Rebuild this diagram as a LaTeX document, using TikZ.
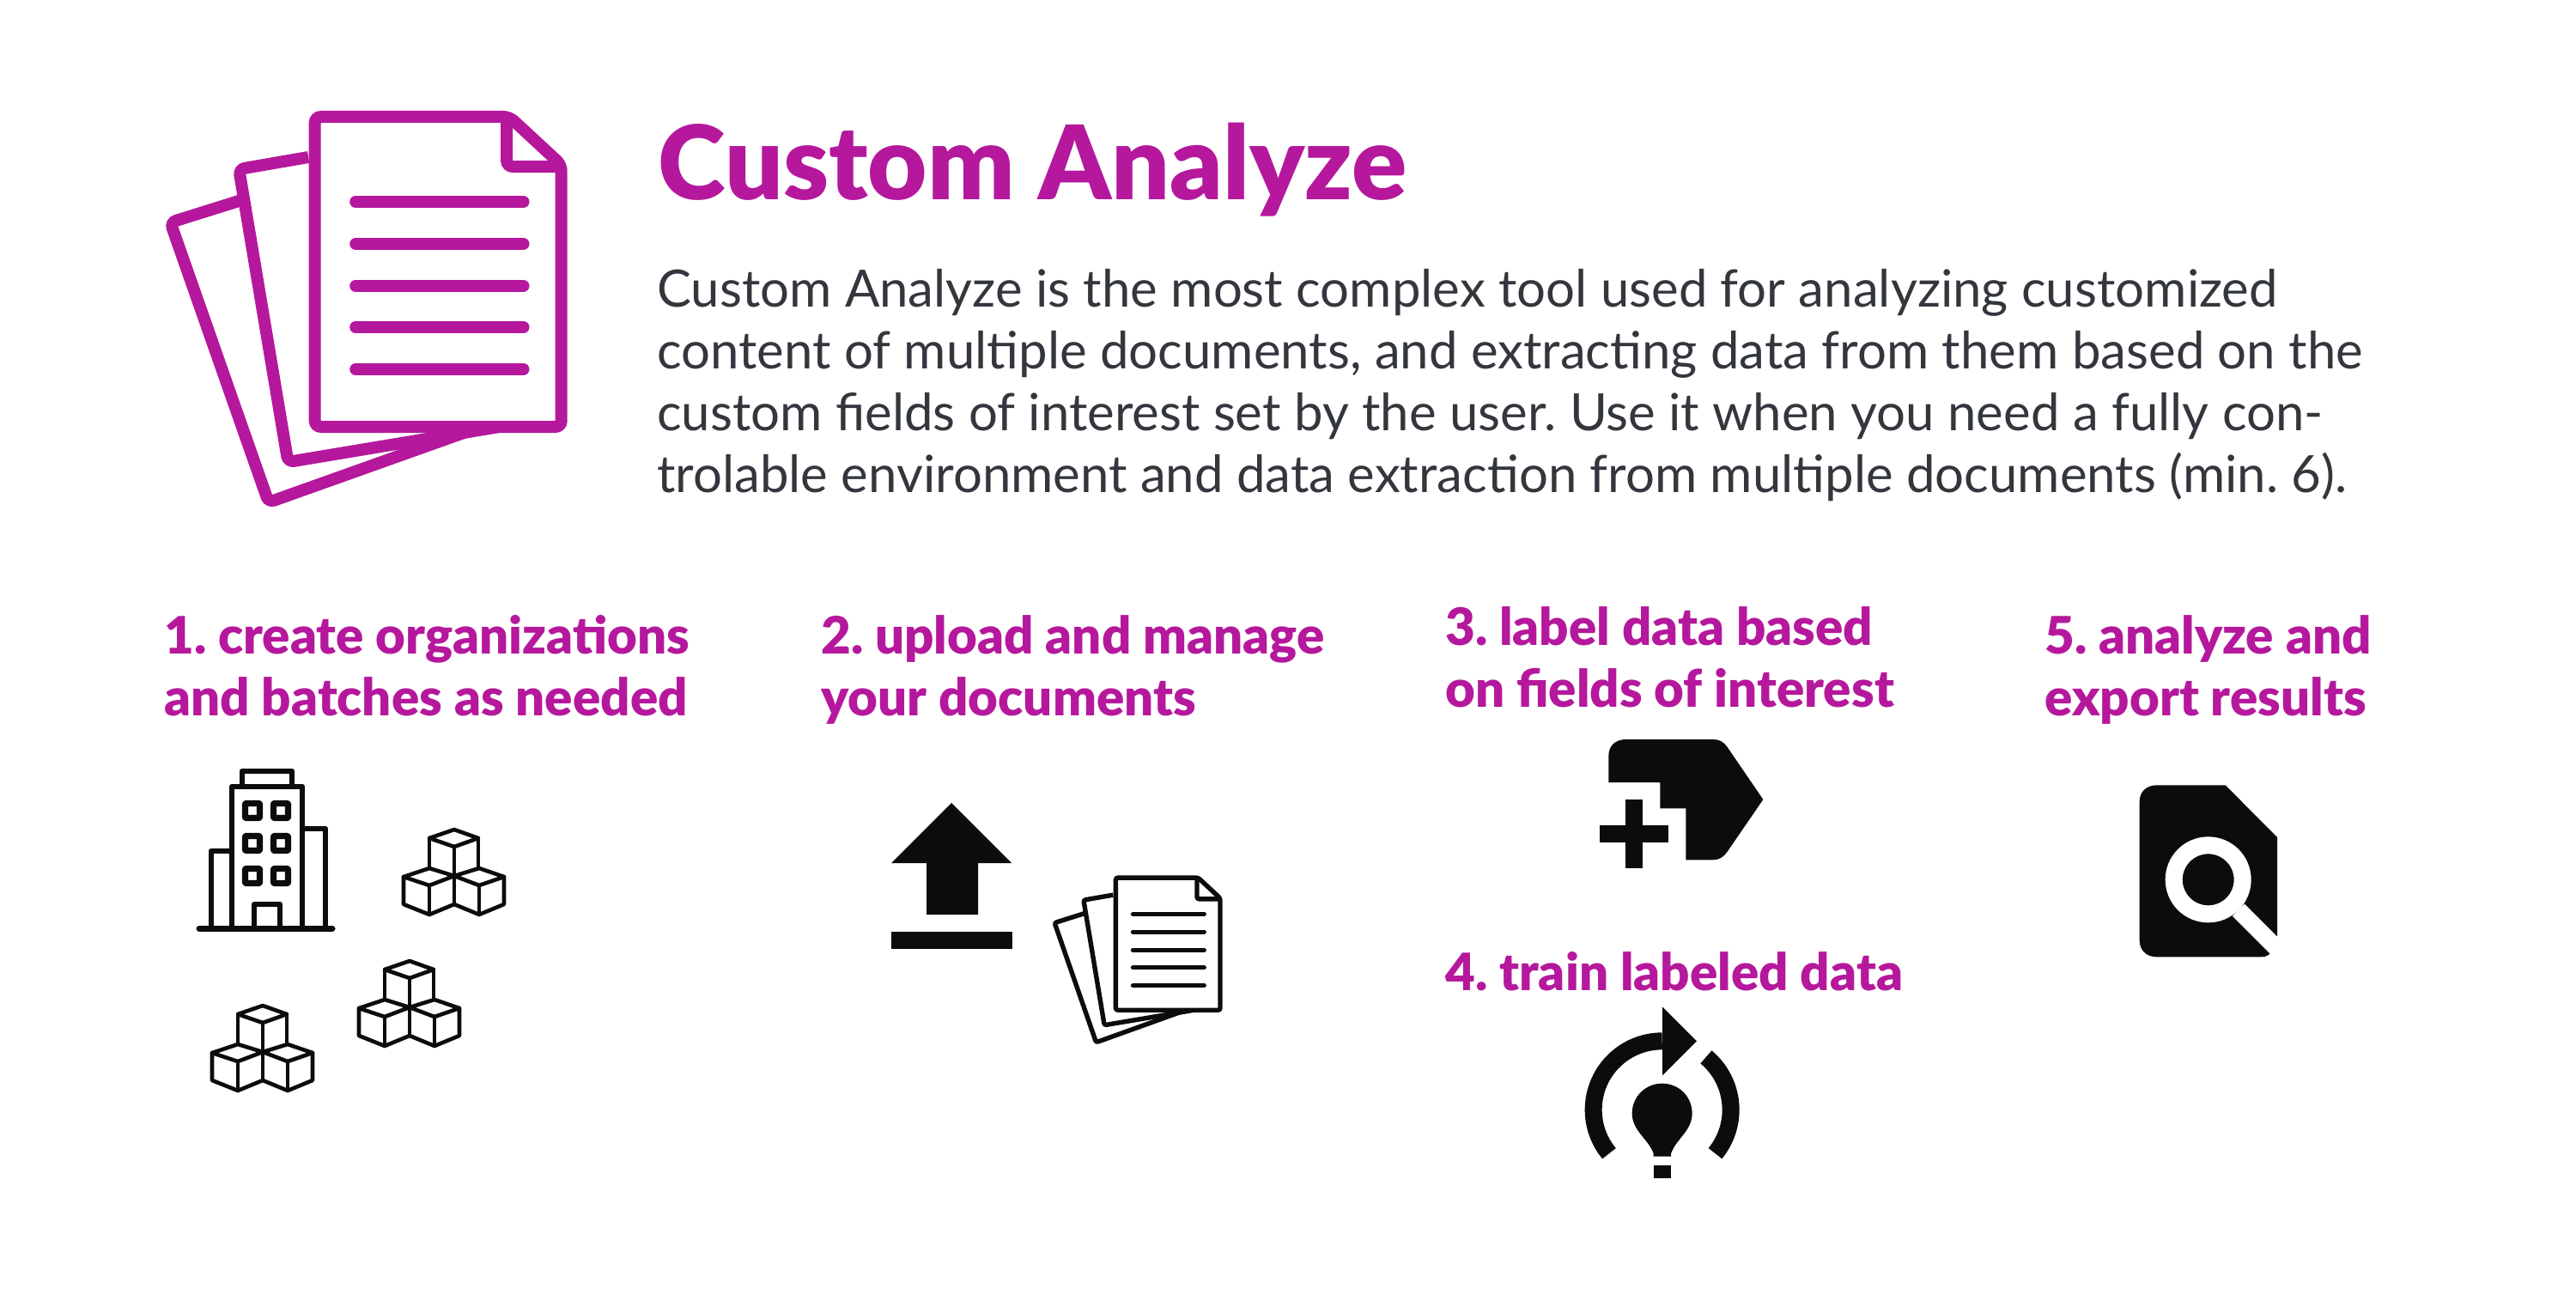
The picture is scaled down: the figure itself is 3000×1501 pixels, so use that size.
\documentclass[tikz,border=0pt]{standalone}
\usepackage{fontspec}
\setmainfont{Lato}[BoldFont={Lato Black}]
\frenchspacing
\usetikzlibrary{positioning}
\usetikzlibrary{calc}

\definecolor{plum}{HTML}{B5189C}
\definecolor{ink}{HTML}{0B0C0E}
\definecolor{slate}{HTML}{33373D}

\tikzset{
  maintitle/.style={anchor=base west,inner sep=0,text=plum,font=\fontsize{119.5}{140}\bfseries\selectfont},
  intro/.style={anchor=north west,inner sep=0,align=left,text=slate,font=\fontsize{59.9}{72}\selectfont},
  stephead/.style={anchor=north west,inner sep=0,align=left,text=plum,font=\fontsize{60}{72}\bfseries\selectfont},
  cubeline/.style={draw=ink,line width=4.6,line join=round,line cap=round},
  house/.style={draw=ink,line width=6.5,line join=round},
  % fanned sheets, drawn in the units of the big icon
  sheets/.pic={
    \draw[rounded corners=#1] (272,233) -- (195,259) -- (301,585) -- (522,500);
    \draw[rounded corners=#1] (344,183) -- (269,197) -- (322,538) -- (550,497);
    \draw[fill=white,rounded corners=#1] (351,497) -- (351,136) -- (561,136) -- (617,192) -- (617,497) -- cycle;
    \draw[rounded corners=#1] (558,136) -- (558,194) -- (617,194);
    \foreach \ly in {235,284,333,381,430}
      \draw[line cap=round] (395,\ly) -- (576,\ly);
  },
  cubes/.pic={
    \draw[cubeline] (0,-34) -- (-29,-44) -- (0,-54) -- (28,-44) -- cycle;
    \draw[cubeline] (-29,-44) -- (-29,-10) (28,-44) -- (28,-10);
    \draw[cubeline] (0,-34) -- (0,33);
    \draw[cubeline] (0,0) -- (-29,-9) -- (-59,1) -- (-29,11) -- cycle;
    \draw[cubeline] (-59,1) -- (-59,33) -- (-29,45) -- (0,33) -- (29,45) -- (58,33) -- (58,1);
    \draw[cubeline] (-29,11) -- (-29,45) (29,11) -- (29,45);
    \draw[cubeline] (0,0) -- (29,-9) -- (58,1) -- (29,11) -- cycle;
  }
}

\begin{document}
\begin{tikzpicture}[x=1pt,y=1pt,yscale=-1]
  \useasboundingbox (0,0) rectangle (3000,1501);

  %% top part
  \pic[draw=plum,line width=14,xscale=1.079,yscale=-1] at (-12,0) {sheets=7};
  \node[maintitle] (title) at (766,232) {Custom Analyze};
  \node[intro] (about) at (765,313) {Custom Analyze is the most complex tool used for analyzing customized\\
    content of multiple documents, and extracting data from them based on the\\
    custom fields of interest set by the user. Use it when you need a fully con-\\
    trolable environment and data extraction from multiple documents (min. 6).};

  %% step titles
  \node[stephead] (first) at (191,716) {1. create organizations\\and batches as needed};
  \node[stephead] (second) at (956,716) {2. upload and manage\\your documents};
  \node[stephead] (third) at (1683,706) {3. label data based\\on fields of interest};
  \node[stephead] (fourth) at (1683,1108) {4. train labeled data};
  \node[stephead] (fifth) at (2381,716) {5. analyze and\\export results};

  %% building
  \draw[house] (282,916) -- (282,898) -- (340,898) -- (340,916);
  \draw[house] (270,1081) -- (270,916) -- (352,916) -- (352,1081);
  \draw[house] (270,991) -- (246,991) -- (246,1081);
  \draw[house] (352,965) -- (379,965) -- (379,1081);
  \draw[house] (296,1081) -- (296,1053) -- (326,1053) -- (326,1081);
  \draw[ink,line width=7,line cap=round] (232,1081) -- (387,1081);
  \foreach \wx in {294,327}
    \foreach \wy in {944,982,1020}
      \draw[house,line width=7.4,rounded corners=1] (\wx-8.5,\wy-8.5) rectangle (\wx+8.5,\wy+8.5);

  \pic[yscale=-1] at (529,1020) {cubes};
  \pic[yscale=-1] at (477,1173) {cubes};
  \pic[yscale=-1] at (306,1225) {cubes};

  %% upload arrow
  \fill[ink] (1108,935) -- (1178,1005) -- (1139,1005) -- (1139,1065) -- (1079,1065) -- (1079,1005) -- (1038,1005) -- cycle;
  \fill[ink] (1038,1085) rectangle (1179,1105);

  %% small sheets
  \pic[draw=ink,line width=5.4,xscale=0.457,yscale=-0.427] at (1139,964) {sheets=2.5};

  %% label with plus
  \begin{scope}[shift={(1840,840)},scale=1/3]
    \fill[ink] (100,213) -- (100,120) .. controls (100,85) and (125,63) .. (160,63) -- (465,63)
      .. controls (487,63) and (503,72) .. (515,90) -- (640,273) -- (515,455)
      .. controls (503,473) and (487,484) .. (465,484) -- (370,484) -- (370,304) -- (280,304) -- (280,213) -- cycle;
    \fill[ink] (160,273) rectangle (220,513);
    \fill[ink] (70,364) rectangle (310,424);
  \end{scope}

  %% training icon
  \begin{scope}[shift={(1830,1180)},scale=1/3]
    \coordinate (hub) at (317,337);
    \draw[ink,line width=20] ($(hub)+(140.5:240)$) arc[start angle=140.5,end angle=270,radius=240];
    \draw[ink,line width=20] ($(hub)+(-50.2:240)$) arc[start angle=-50.2,end angle=39.4,radius=240];
    \fill[ink] (318,-23) -- (438,97) -- (318,217) -- cycle;
    \fill[ink] (287,500) -- (287,490) .. controls (270,440) and (212,410) .. (212,350)
      .. controls (212,290) and (260,245) .. (317,245) .. controls (375,245) and (422,290) .. (422,350)
      .. controls (422,410) and (365,440) .. (348,490) -- (348,500) -- cycle;
    \fill[ink] (287,530) rectangle (348,577);
  \end{scope}

  %% file with lens
  \begin{scope}[shift={(2480,900)},scale=1/3]
    \fill[ink] (35,100) .. controls (35,65) and (60,43) .. (95,43) -- (335,43) -- (516,225) -- (516,570)
      -- (490,632) .. controls (482,640) and (472,643) .. (460,643) -- (95,643)
      .. controls (60,643) and (35,620) .. (35,585) -- cycle;
    \draw[white,line width=20] (275,373) circle[radius=120];
    \draw[white,line width=20] (381,479) -- (540,638);
  \end{scope}
\end{tikzpicture}
\end{document}
